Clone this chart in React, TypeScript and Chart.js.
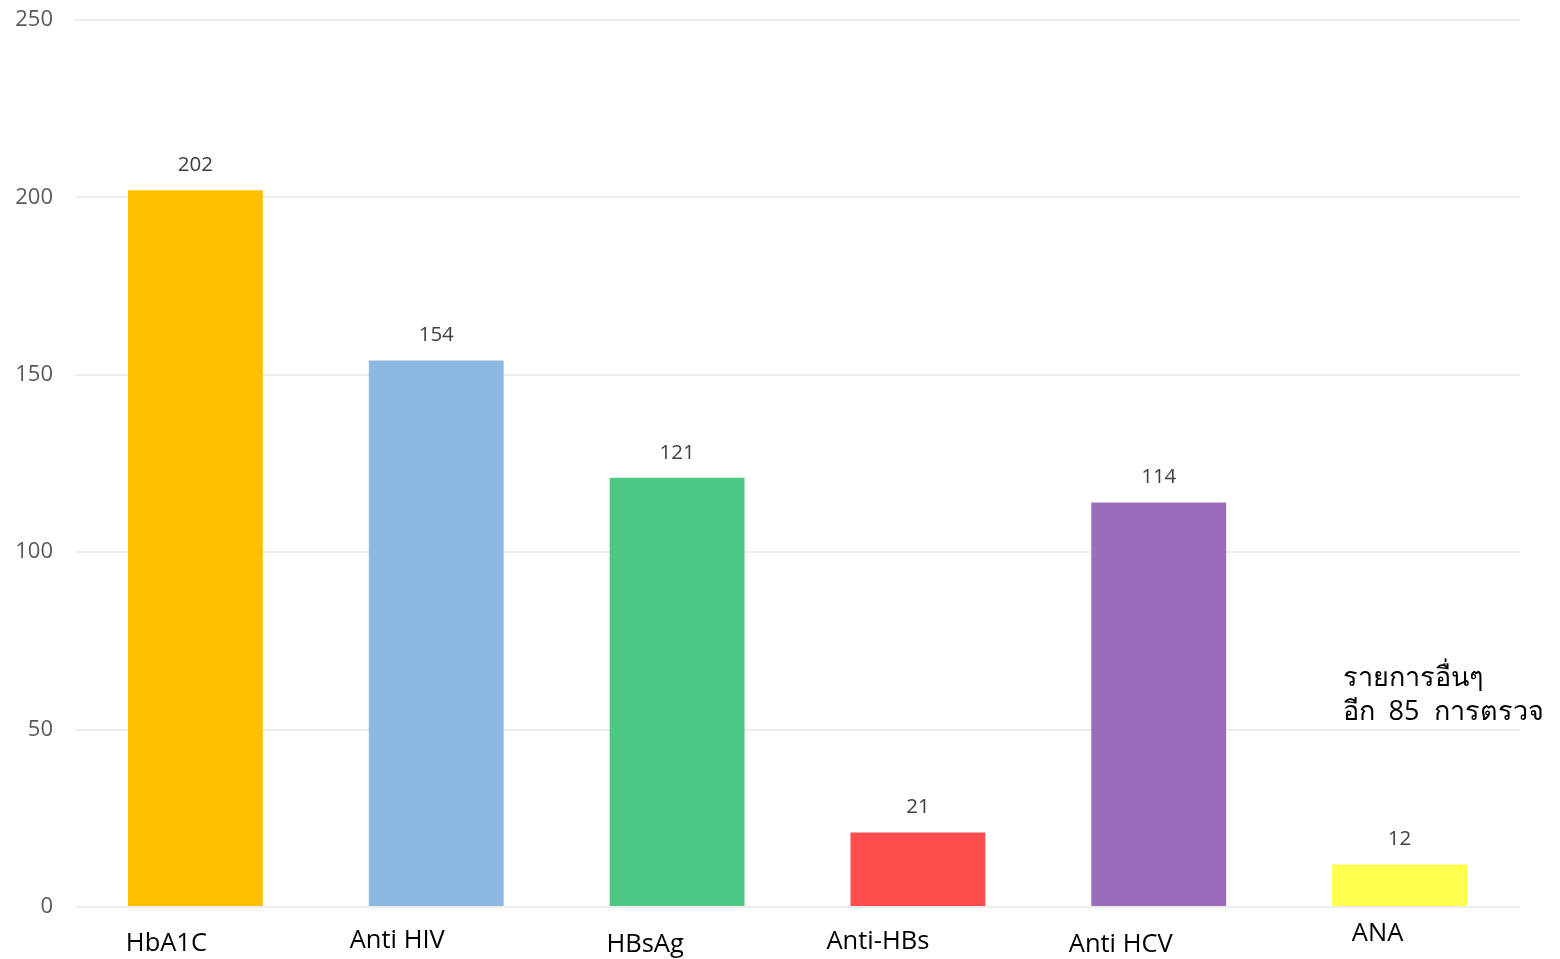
import React, { useEffect, useRef } from "react";
import { Chart, registerables } from "chart.js";

Chart.register(...registerables);

const categories = ["HbA1C", "Anti HIV", "HBsAg", "Anti-HBs", "Anti HCV", "ANA"];
const counts = [202, 154, 121, 21, 114, 12];
const barColors = ["#FFC000", "#8DB8E1", "#4CC885", "#FF4C4C", "#9A6DBB", "#FFFF4C"];
const yTicks = [0, 50, 100, 150, 200, 250];
const noteLines = ["รายการอื่นๆ", "อีก  85  การตรวจ"];

// Hand-placed offsets for the category captions under each bar (dx, dy from axis)
const captionOffsets: [number, number][] = [
  [-29, 37],
  [-39, 34],
  [-32, 38],
  [-40, 35],
  [-38, 38],
  [-22, 27],
];

const FONT = "'Open Sans', 'Noto Sans', sans-serif";

const labelPlugin = {
  id: "barLabels",
  afterDatasetsDraw(chart: any) {
    const { ctx, scales } = chart;
    const x = scales.x;
    const y = scales.y;
    const meta = chart.getDatasetMeta(0);
    ctx.save();
    // value labels above each bar
    ctx.font = `20.5px ${FONT}`;
    ctx.fillStyle = "#404040";
    ctx.textAlign = "center";
    ctx.textBaseline = "middle";
    meta.data.forEach((bar: any, i: number) => {
      ctx.fillText(String(counts[i]), bar.x, bar.y - 25);
    });
    // category captions
    ctx.font = `25.5px ${FONT}`;
    ctx.fillStyle = "#000000";
    categories.forEach((c, i) => {
      const [dx, dy] = captionOffsets[i];
      ctx.fillText(c, x.getPixelForValue(i) + dx, y.getPixelForValue(0) + dy);
    });
    // side note
    ctx.font = `27px ${FONT}`;
    ctx.textAlign = "left";
    const noteX = x.getPixelForValue(5) - 57;
    const noteY = y.getPixelForValue(64.5);
    noteLines.forEach((line, i) => {
      ctx.fillText(line, noteX, noteY + i * 34);
    });
    ctx.restore();
  },
};

export default function App() {
  const canvasRef = useRef<HTMLCanvasElement | null>(null);

  useEffect(() => {
    document.body.style.margin = "0";
    const chart = new Chart(canvasRef.current!, {
      type: "bar",
      data: {
        labels: categories,
        datasets: [
          {
            data: counts,
            backgroundColor: barColors,
            borderWidth: 0,
            barPercentage: 0.56,
            categoryPercentage: 1,
          },
        ],
      },
      options: {
        animation: false,
        responsive: false,
        layout: { padding: { top: 20, right: 40, bottom: 52, left: 0 } },
        plugins: {
          legend: { display: false },
          tooltip: { enabled: false },
        },
        scales: {
          x: {
            display: false,
          },
          y: {
            min: 0,
            max: 250,
            afterFit(scale: any) {
              scale.width = 75;
              scale.paddingTop = 0;
              scale.paddingBottom = 0;
            },
            afterBuildTicks(scale: any) {
              scale.ticks = yTicks.map((v) => ({ value: v }));
            },
            border: { display: false },
            grid: { color: "#EDEDED", lineWidth: 2, drawTicks: false },
            ticks: {
              padding: 22,
              color: "#595959",
              font: { family: FONT, size: 22 },
            },
          },
        },
      },
      plugins: [labelPlugin],
    });
    return () => chart.destroy();
  }, []);

  return (
    <div style={{ position: "absolute", left: 0, top: 0, width: 1560, height: 959, background: "#fff" }}>
      <canvas ref={canvasRef} width={1560} height={959} />
    </div>
  );
}
